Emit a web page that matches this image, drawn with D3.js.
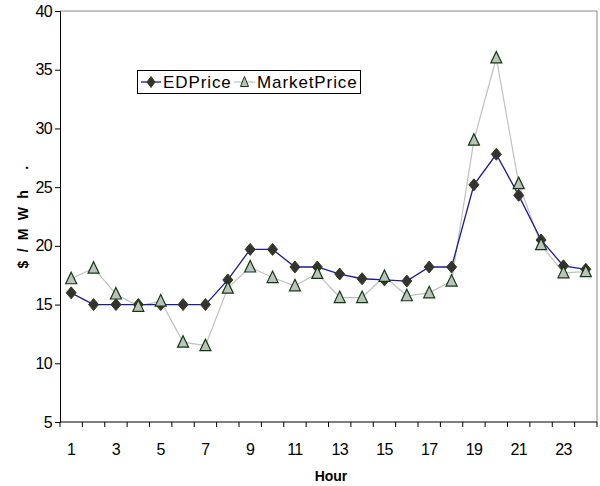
<!DOCTYPE html>
<html>
<head>
<meta charset="utf-8">
<script src="https://cdn.jsdelivr.net/npm/d3@7"></script>
<style>
  html, body { margin: 0; padding: 0; background: #fff; }
  svg { display: block; font-family: "Liberation Sans", Arial, sans-serif; }
</style>
</head>
<body>
<svg id="chart" width="600" height="486"></svg>
<script>
// Hourly prices, $/MWh
const hours = d3.range(1, 25);
const edPrice = [16.0, 15.0, 15.0, 15.0, 15.0, 15.0, 15.0, 17.1, 19.7, 19.7, 18.2, 18.2,
                 17.6, 17.2, 17.1, 17.0, 18.2, 18.2, 25.2, 27.8, 24.3, 20.5, 18.3, 18.0];
const marketPrice = [17.2, 18.1, 15.9, 14.85, 15.3, 11.8, 11.5, 16.4, 18.2, 17.3, 16.6, 17.65,
                     15.6, 15.6, 17.4, 15.75, 16.0, 17.0, 29.0, 36.0, 25.3, 20.1, 17.7, 17.8];
const yTicks = [5, 10, 15, 20, 25, 30, 35, 40];
const xTickLabels = [1, 3, 5, 7, 9, 11, 13, 15, 17, 19, 21, 23];
const seriesNames = ["EDPrice", "MarketPrice"];

const svg = d3.select("#chart");
const plot = { left: 60, right: 597, top: 11, bottom: 422 };

const x = d3.scaleBand().domain(hours).range([plot.left, plot.right]).padding(0);
const y = d3.scaleLinear().domain([5, 40]).range([plot.bottom, plot.top]);
const cx = h => x(h) + x.bandwidth() / 2;

// plot frame: top and right edges in grey
svg.append("path")
  .attr("d", `M${plot.left},${plot.top}H${plot.right}V${plot.bottom}`)
  .attr("fill", "none").attr("stroke", "#888").attr("stroke-width", 1);

// y axis
const yAxis = d3.axisLeft(y).tickValues(yTicks).tickSize(5).tickPadding(3);
const gy = svg.append("g").attr("transform", `translate(${plot.left},0)`).call(yAxis);
gy.select(".domain").attr("stroke", "#000");
gy.selectAll(".tick line").attr("stroke", "#000");
gy.selectAll(".tick text").attr("font-size", 16).attr("letter-spacing", -0.6)
  .attr("fill", "#000").attr("font-family", "Liberation Sans, Arial, sans-serif");

// x axis: line, boundary ticks and labels on odd hours
const gx = svg.append("g");
gx.append("line").attr("x1", plot.left).attr("x2", plot.right)
  .attr("y1", plot.bottom).attr("y2", plot.bottom).attr("stroke", "#000");
const boundaries = hours.map(h => x(h)).concat([x.range()[1]]);
gx.selectAll("line.tk").data(boundaries).join("line").attr("class", "tk")
  .attr("x1", d => d).attr("x2", d => d).attr("y1", plot.bottom).attr("y2", plot.bottom + 5)
  .attr("stroke", "#000");
gx.selectAll("text").data(xTickLabels).join("text")
  .attr("x", d => cx(d)).attr("y", 455)
  .attr("text-anchor", "middle").attr("font-size", 16).attr("letter-spacing", -0.6)
  .text(d => d);

// axis titles
svg.append("text").attr("x", 331).attr("y", 481).attr("text-anchor", "middle")
  .attr("font-size", 14).attr("font-weight", "bold").text("Hour");
svg.append("text")
  .attr("transform", "translate(28,216) rotate(-90)")
  .attr("text-anchor", "middle").attr("font-size", 14).attr("font-weight", "bold")
  .attr("letter-spacing", 2.2).style("white-space", "pre")
  .text("$ / M W h   .");

// lines
const line = d3.line().x((d, i) => cx(hours[i])).y(d => y(d));
svg.append("path").datum(marketPrice).attr("d", line)
  .attr("fill", "none").attr("stroke", "#c0c0c0").attr("stroke-width", 1.2);
svg.append("path").datum(edPrice).attr("d", line)
  .attr("fill", "none").attr("stroke", "#1a1a9a").attr("stroke-width", 1.3);

// markers
const diamond = "M0,-6L5,0L0,6L-5,0Z";
const triangle = "M0,-6.5L5.5,5L-5.5,5Z";
svg.append("g").selectAll("path").data(edPrice).join("path")
  .attr("d", diamond)
  .attr("transform", (d, i) => `translate(${cx(hours[i])},${y(d)})`)
  .attr("fill", "#333").attr("stroke", "#3a3a10").attr("stroke-width", 1);
svg.append("g").selectAll("path").data(marketPrice).join("path")
  .attr("d", triangle)
  .attr("transform", (d, i) => `translate(${cx(hours[i])},${y(d)})`)
  .attr("fill", "#c0c0c0").attr("stroke", "#0b3d0b").attr("stroke-width", 1.2);

// legend
const lg = svg.append("g");
lg.append("rect").attr("x", 137.5).attr("y", 70.5).attr("width", 223).attr("height", 23)
  .attr("fill", "#fff").attr("stroke", "#000");
lg.append("line").attr("x1", 141).attr("x2", 161).attr("y1", 82).attr("y2", 82)
  .attr("stroke", "#1a1a9a").attr("stroke-width", 1.3);
lg.append("path").attr("d", "M0,-5.5L4,0L0,5.5L-4,0Z").attr("transform", "translate(151,82)")
  .attr("fill", "#333").attr("stroke", "#3a3a10");
lg.append("text").attr("x", 163).attr("y", 88).attr("font-size", 17).attr("letter-spacing", 0.9)
  .text(seriesNames[0]);
lg.append("line").attr("x1", 234).attr("x2", 255).attr("y1", 82).attr("y2", 82)
  .attr("stroke", "#c0c0c0").attr("stroke-width", 1.2);
lg.append("path").attr("d", "M0,-5.5L4,4.5L-4,4.5Z").attr("transform", "translate(244.5,82)")
  .attr("fill", "#c0c0c0").attr("stroke", "#0b3d0b");
lg.append("text").attr("x", 257).attr("y", 88).attr("font-size", 17).attr("letter-spacing", 0.9)
  .text(seriesNames[1]);
</script>
</body>
</html>
